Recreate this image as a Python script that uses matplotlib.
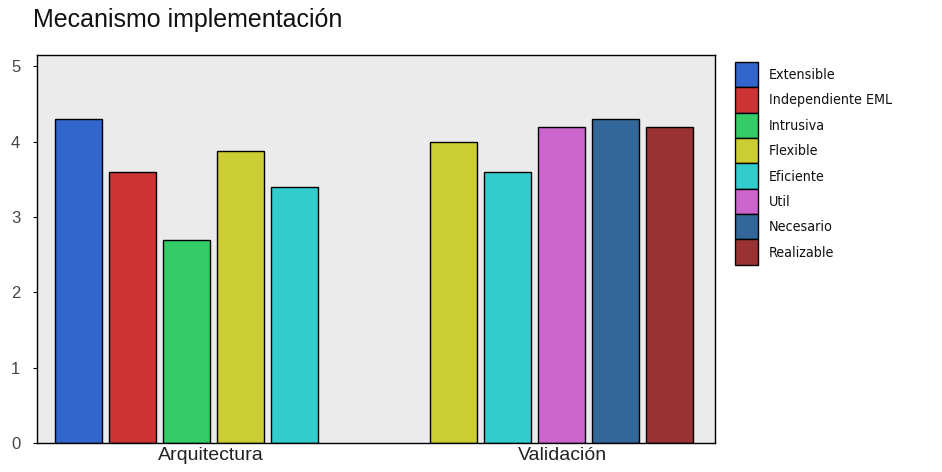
import matplotlib
matplotlib.use("Agg")
import matplotlib.pyplot as plt
from matplotlib.font_manager import FontProperties
import numpy as np

# Group data
groups = ["Arquitectura", "Validación"]
arq_labels = ["Extensible", "Independiente EML", "Intrusiva", "Flexible", "Eficiente"]
arq_values = [4.3, 3.6, 2.7, 3.87, 3.4]
val_labels = ["Flexible", "Eficiente", "Util", "Necesario", "Realizable"]
val_values = [4.0, 3.6, 4.2, 4.3, 4.2]

colors = {
    "Extensible": "#3366CC",
    "Independiente EML": "#CC3333",
    "Intrusiva": "#33CC66",
    "Flexible": "#CCCC33",
    "Eficiente": "#33CCCC",
    "Util": "#CC66CC",
    "Necesario": "#336699",
    "Realizable": "#993333",
}

fig = plt.figure(figsize=(9.42, 4.72), dpi=100)
ax = fig.add_axes([37 / 942, 1 - 443 / 472, (715 - 37) / 942, (443 - 55) / 472])
ax.set_facecolor("#EBEBEB")

width = 0.87
val_start = 6.94
x_arq = np.arange(len(arq_values))
x_val = val_start + np.arange(len(val_values))

seen = set()
for xs, labels, values in [(x_arq, arq_labels, arq_values), (x_val, val_labels, val_values)]:
    for x, lab, v in zip(xs, labels, values):
        ax.bar(x, v, width=width, color=colors[lab], edgecolor="black", linewidth=1.0,
               label=lab if lab not in seen else "_nolegend_", zorder=2)
        seen.add(lab)

ax.set_xlim(-0.77, 11.79)
ax.set_ylim(0, 5.15)
ax.set_yticks([0, 1, 2, 3, 4, 5])
ax.set_xticks([2.45, 8.97])
ax.set_xticklabels(groups)
ax.tick_params(axis="y", length=3, width=0.8, colors="black", labelcolor="#444444",
               labelsize=12, pad=9)
ax.tick_params(axis="x", length=0, labelcolor="#222222", labelsize=14, pad=3)
for lbl in ax.get_xticklabels() + ax.get_yticklabels():
    lbl.set_fontfamily("Liberation Sans")
for s in ax.spines.values():
    s.set_linewidth(1.0)

fig.text(33 / 942, 1 - 20 / 472, "Mecanismo implementación", fontsize=18,
         family="Liberation Sans", va="center", ha="left", color="#111111")

leg_font = FontProperties(family="DejaVu Sans", stretch="condensed", size=10.3)
leg = ax.legend(loc="upper left", bbox_to_anchor=(735 / 942, 1 - 62 / 472),
                bbox_transform=fig.transFigure, frameon=False, prop=leg_font,
                labelspacing=0, handlelength=1.62, handleheight=2.35,
                handletextpad=0.75, borderpad=0, borderaxespad=0)
for t in leg.get_texts():
    t.set_color("#111111")

fig.savefig("out.png", dpi=100)
